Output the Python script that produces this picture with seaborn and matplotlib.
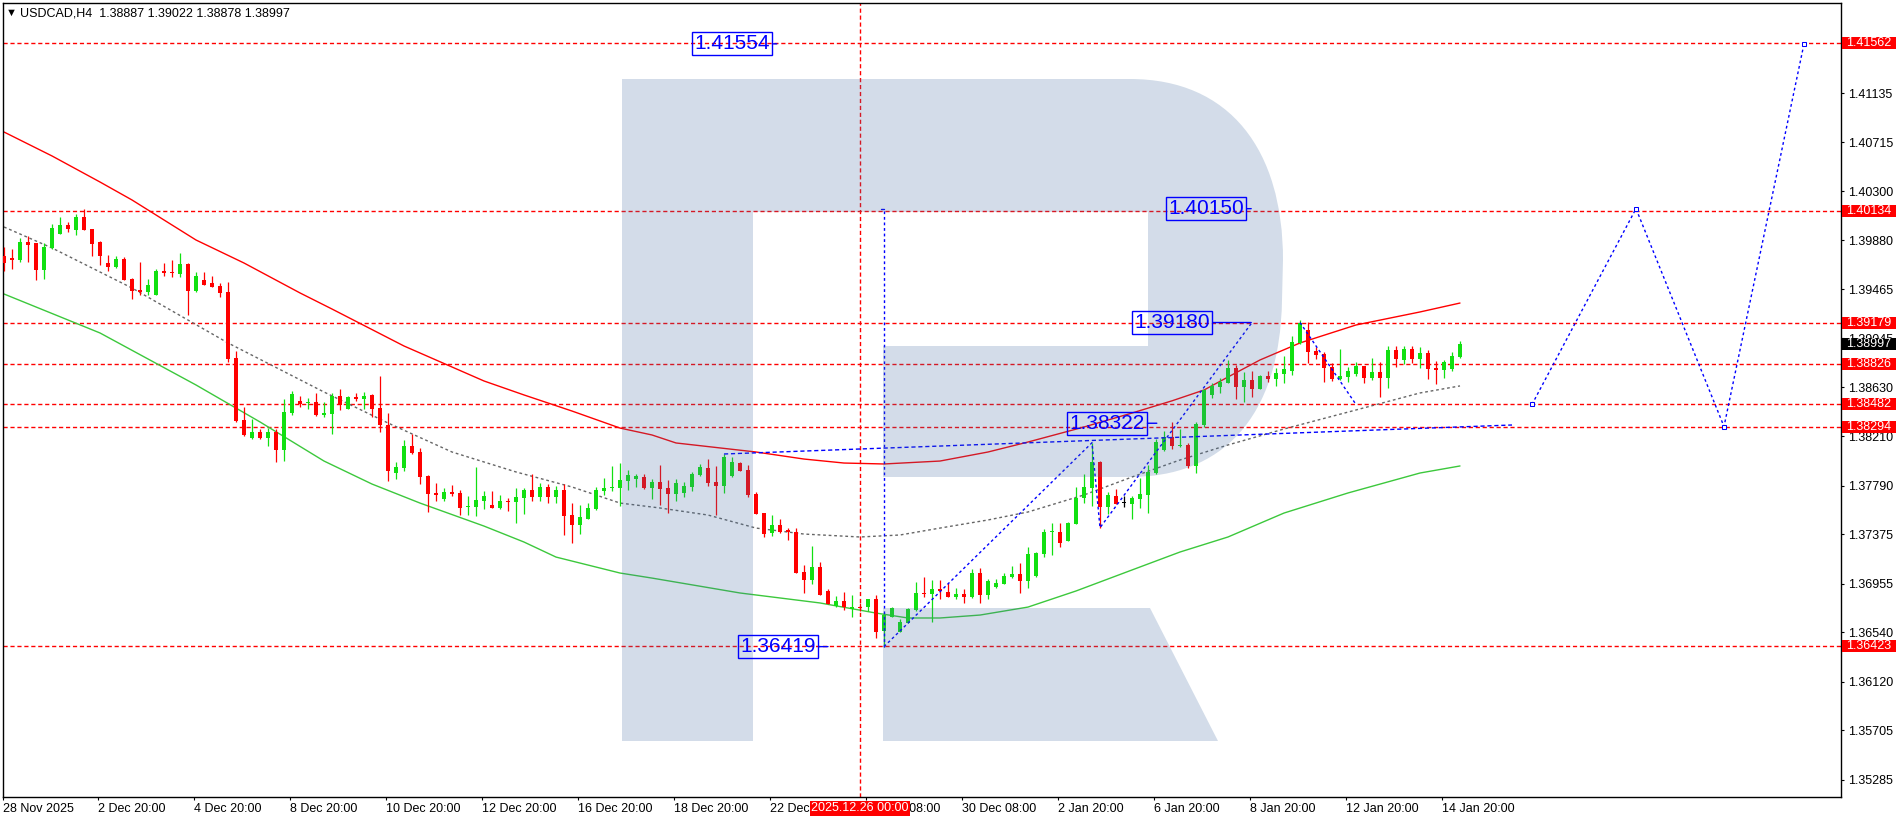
import matplotlib
matplotlib.use("Agg")
import matplotlib.pyplot as plt
import matplotlib.transforms as mtransforms
from matplotlib.path import Path
from matplotlib.patches import PathPatch, Rectangle
import seaborn as sns

# USDCAD H4 candles, index 0 = 28 Nov 2025
open_ = [1.39747, 1.39727, 1.39713, 1.39866, 1.39855, 1.39631, 1.39818, 1.39937, 1.40011, 1.39971,
         1.40079, 1.39977, 1.39866, 1.39687, 1.39653, 1.39719, 1.39551, 1.39457, 1.39440, 1.39417,
         1.39619, 1.39613, 1.39596, 1.39679, 1.39451, 1.39542, 1.39517, 1.39491, 1.39440, 1.38878,
         1.38350, 1.38199, 1.38247, 1.38199, 1.38247, 1.38097, 1.38407, 1.38511, 1.38492, 1.38503,
         1.38393, 1.38403, 1.38557, 1.38446, 1.38546, 1.38531, 1.38563, 1.38452, 1.38307, 1.37898,
         1.37943, 1.38128, 1.38077, 1.37872, 1.37727, 1.37679, 1.37736, 1.37727, 1.37611, 1.37611,
         1.37662, 1.37625, 1.37602, 1.37662, 1.37654, 1.37688, 1.37756, 1.37696, 1.37779, 1.37696,
         1.37756, 1.37540, 1.37458, 1.37509, 1.37594, 1.37747, 1.37773, 1.37773, 1.37832, 1.37844,
         1.37864, 1.37773, 1.37821, 1.37770, 1.37719, 1.37725, 1.37779, 1.37884, 1.37941, 1.37821,
         1.37787, 1.37872, 1.37986, 1.37924, 1.37719, 1.37557, 1.37384, 1.37455, 1.37412, 1.37395,
         1.37052, 1.36986, 1.37097, 1.36893, 1.36767, 1.36805, 1.36739, 1.36754, 1.36759, 1.36822,
         1.36554, 1.36674, 1.36546, 1.36623, 1.36731, 1.36878, 1.36867, 1.36907, 1.36884, 1.36841,
         1.36867, 1.36841, 1.37043, 1.36859, 1.36927, 1.36955, 1.37012, 1.37038, 1.36981, 1.37020,
         1.37211, 1.37395, 1.37398, 1.37321, 1.37464, 1.37688, 1.37770, 1.37992, 1.37611, 1.37702,
         1.37645, 1.37636, 1.37679, 1.37713, 1.37901, 1.38094, 1.38202, 1.38128, 1.38137, 1.37958,
         1.38307, 1.38563, 1.38633, 1.38667, 1.38790, 1.38631, 1.38690, 1.38616, 1.38725, 1.38699,
         1.38744, 1.38770, 1.39006, 1.39116, 1.38940, 1.38912, 1.38801, 1.38699, 1.38716, 1.38744,
         1.38810, 1.38710, 1.38759, 1.38710, 1.38946, 1.38863, 1.38952, 1.38872, 1.38921, 1.38793,
         1.38778, 1.38787, 1.38887]
high = [1.39821, 1.39804, 1.39898, 1.39917, 1.39860, 1.39855, 1.40020, 1.40077, 1.40034, 1.40102,
        1.40145, 1.39977, 1.39875, 1.39753, 1.39747, 1.39736, 1.39557, 1.39696, 1.39551, 1.39634,
        1.39690, 1.39713, 1.39775, 1.39690, 1.39611, 1.39611, 1.39576, 1.39514, 1.39528, 1.38937,
        1.38458, 1.38356, 1.38273, 1.38284, 1.38270, 1.38529, 1.38594, 1.38554, 1.38537, 1.38582,
        1.38503, 1.38577, 1.38611, 1.38557, 1.38577, 1.38588, 1.38571, 1.38725, 1.38407, 1.37992,
        1.38179, 1.38230, 1.38111, 1.37878, 1.37810, 1.37770, 1.37793, 1.37750, 1.37702, 1.37947,
        1.37744, 1.37744, 1.37708, 1.37685, 1.37770, 1.37768, 1.37889, 1.37810, 1.37802, 1.37787,
        1.37802, 1.37640, 1.37625, 1.37640, 1.37776, 1.37855, 1.37958, 1.37986, 1.37924, 1.37889,
        1.37889, 1.37844, 1.37966, 1.37838, 1.37844, 1.37821, 1.37904, 1.37975, 1.38020, 1.37958,
        1.38057, 1.38032, 1.37992, 1.37966, 1.37736, 1.37557, 1.37540, 1.37506, 1.37427, 1.37427,
        1.37114, 1.37276, 1.37140, 1.36912, 1.36848, 1.36887, 1.36859, 1.36788, 1.36828, 1.36859,
        1.36706, 1.36759, 1.36652, 1.36745, 1.36972, 1.37014, 1.36986, 1.36986, 1.36958, 1.36915,
        1.36912, 1.37077, 1.37086, 1.36992, 1.36992, 1.37049, 1.37108, 1.37134, 1.37270, 1.37228,
        1.37424, 1.37472, 1.37470, 1.37483, 1.37781, 1.37889, 1.38156, 1.38003, 1.37736, 1.37764,
        1.37702, 1.37705, 1.37858, 1.37966, 1.38190, 1.38256, 1.38335, 1.38273, 1.38151, 1.38335,
        1.38617, 1.38667, 1.38705, 1.38861, 1.38818, 1.38759, 1.38767, 1.38733, 1.38767, 1.38790,
        1.38897, 1.39065, 1.39200, 1.39182, 1.38974, 1.38931, 1.38838, 1.38955, 1.38804, 1.38846,
        1.38810, 1.38878, 1.38844, 1.38980, 1.38980, 1.38980, 1.38980, 1.38972, 1.38946, 1.38852,
        1.38861, 1.38929, 1.39022]
low = [1.39622, 1.39639, 1.39699, 1.39699, 1.39545, 1.39551, 1.39804, 1.39937, 1.39954, 1.39923,
       1.39971, 1.39747, 1.39673, 1.39622, 1.39647, 1.39545, 1.39383, 1.39415, 1.39417, 1.39417,
       1.39579, 1.39571, 1.39571, 1.39247, 1.39443, 1.39502, 1.39485, 1.39400, 1.38844, 1.38335,
       1.38213, 1.38188, 1.38188, 1.38128, 1.37995, 1.38003, 1.38393, 1.38460, 1.38441, 1.38384,
       1.38378, 1.38233, 1.38435, 1.38441, 1.38514, 1.38441, 1.38378, 1.38250, 1.37832, 1.37849,
       1.37918, 1.38060, 1.37806, 1.37568, 1.37662, 1.37662, 1.37702, 1.37540, 1.37540, 1.37534,
       1.37591, 1.37602, 1.37594, 1.37577, 1.37475, 1.37549, 1.37660, 1.37662, 1.37645, 1.37640,
       1.37372, 1.37304, 1.37376, 1.37504, 1.37585, 1.37711, 1.37747, 1.37619, 1.37753, 1.37781,
       1.37764, 1.37676, 1.37625, 1.37560, 1.37660, 1.37693, 1.37744, 1.37872, 1.37787, 1.37540,
       1.37730, 1.37866, 1.37915, 1.37696, 1.37549, 1.37355, 1.37359, 1.37389, 1.37327, 1.37043,
       1.36878, 1.36952, 1.36856, 1.36779, 1.36754, 1.36731, 1.36669, 1.36725, 1.36720, 1.36490,
       1.36419, 1.36669, 1.36543, 1.36618, 1.36725, 1.36844, 1.36631, 1.36825, 1.36839, 1.36822,
       1.36788, 1.36835, 1.36793, 1.36827, 1.36921, 1.36955, 1.37006, 1.36878, 1.36921, 1.37014,
       1.37180, 1.37199, 1.37270, 1.37321, 1.37461, 1.37640, 1.37617, 1.37432, 1.37549, 1.37634,
       1.37606, 1.37509, 1.37600, 1.37560, 1.37887, 1.38083, 1.38105, 1.38117, 1.37943, 1.37901,
       1.38293, 1.38540, 1.38582, 1.38662, 1.38529, 1.38506, 1.38548, 1.38611, 1.38676, 1.38642,
       1.38667, 1.38733, 1.38997, 1.38833, 1.38867, 1.38671, 1.38684, 1.38690, 1.38673, 1.38725,
       1.38667, 1.38690, 1.38548, 1.38625, 1.38804, 1.38824, 1.38833, 1.38795, 1.38701, 1.38659,
       1.38710, 1.38770, 1.38878]
close = [1.39690, 1.39715, 1.39866, 1.39840, 1.39631, 1.39823, 1.39986, 1.40011, 1.39977, 1.40079,
         1.39971, 1.39852, 1.39747, 1.39656, 1.39719, 1.39545, 1.39451, 1.39443, 1.39500, 1.39622,
         1.39605, 1.39600, 1.39679, 1.39451, 1.39576, 1.39502, 1.39485, 1.39434, 1.38872, 1.38341,
         1.38219, 1.38247, 1.38199, 1.38247, 1.38097, 1.38418, 1.38571, 1.38488, 1.38503, 1.38393,
         1.38412, 1.38557, 1.38480, 1.38546, 1.38531, 1.38554, 1.38446, 1.38307, 1.37918, 1.37949,
         1.38128, 1.38068, 1.37866, 1.37721, 1.37713, 1.37736, 1.37719, 1.37602, 1.37617, 1.37668,
         1.37702, 1.37602, 1.37657, 1.37654, 1.37693, 1.37756, 1.37696, 1.37779, 1.37696, 1.37756,
         1.37534, 1.37458, 1.37523, 1.37600, 1.37753, 1.37770, 1.37781, 1.37838, 1.37881, 1.37872,
         1.37770, 1.37821, 1.37761, 1.37719, 1.37813, 1.37787, 1.37892, 1.37949, 1.37810, 1.37790,
         1.38034, 1.37992, 1.37915, 1.37713, 1.37549, 1.37378, 1.37455, 1.37398, 1.37398, 1.37049,
         1.36986, 1.37097, 1.36859, 1.36782, 1.36805, 1.36754, 1.36754, 1.36745, 1.36822, 1.36546,
         1.36688, 1.36745, 1.36629, 1.36737, 1.36873, 1.36870, 1.36910, 1.36895, 1.36844, 1.36867,
         1.36844, 1.37043, 1.36861, 1.36978, 1.36958, 1.37020, 1.37038, 1.36981, 1.37208, 1.37217,
         1.37395, 1.37404, 1.37299, 1.37472, 1.37685, 1.37779, 1.37992, 1.37611, 1.37710, 1.37636,
         1.37645, 1.37688, 1.37719, 1.37907, 1.38162, 1.38202, 1.38131, 1.38137, 1.37958, 1.38313,
         1.38605, 1.38639, 1.38671, 1.38790, 1.38633, 1.38690, 1.38616, 1.38725, 1.38701, 1.38750,
         1.38784, 1.39014, 1.39176, 1.38931, 1.38901, 1.38795, 1.38699, 1.38725, 1.38767, 1.38810,
         1.38710, 1.38759, 1.38710, 1.38946, 1.38872, 1.38952, 1.38872, 1.38921, 1.38787, 1.38778,
         1.38844, 1.38895, 1.38997]

# Bollinger bands, read at a number of candles
upper_idx = [0, 6, 12, 16, 24, 30, 37, 41, 50, 60, 65, 71, 77, 81, 84, 94, 100, 105, 110, 117,
             123, 128, 135, 141, 146, 150, 153, 157, 162, 169, 177, 182]
bb_upper = [1.40803, 1.40599, 1.40377, 1.40224, 1.39883, 1.39687, 1.39432, 1.39295, 1.38980, 1.38682,
            1.38563, 1.38426, 1.38281, 1.38222, 1.38154, 1.38077, 1.38017, 1.37983, 1.37975, 1.38000,
            1.38077, 1.38162, 1.38290, 1.38409, 1.38513, 1.38605, 1.38716, 1.38861, 1.39006, 1.39159,
            1.39270, 1.39346]
mid_idx = [0, 6, 16, 28, 40, 48, 56, 64, 71, 77, 82, 88, 94, 100, 107, 112, 117, 123, 128, 135,
           141, 147, 153, 160, 169, 177, 182]
bb_mid = [1.39994, 1.39815, 1.39474, 1.39006, 1.38588, 1.38324, 1.38077, 1.37907, 1.37779, 1.37642,
          1.37600, 1.37540, 1.37429, 1.37378, 1.37353, 1.37370, 1.37429, 1.37498, 1.37566, 1.37711,
          1.37864, 1.38009, 1.38137, 1.38273, 1.38435, 1.38580, 1.38640]
lower_idx = [0, 12, 24, 32, 40, 46, 52, 60, 65, 69, 77, 81, 92, 102, 109, 113, 117, 122, 128, 134,
             141, 147, 153, 160, 168, 177, 182]
bb_lower = [1.39423, 1.39091, 1.38648, 1.38333, 1.38000, 1.37804, 1.37642, 1.37446, 1.37310, 1.37182,
            1.37046, 1.37003, 1.36876, 1.36791, 1.36705, 1.36663, 1.36663, 1.36688, 1.36756, 1.36893,
            1.37072, 1.37225, 1.37353, 1.37557, 1.37728, 1.37898, 1.37958]

# levels and marks
level_prices = [1.41562, 1.40134, 1.39179, 1.38826, 1.38482, 1.38294, 1.36423]
last_price = 1.38997
marked_idx = 107
marked_label = "2025.12.26 00:00"

ytick_values = [1.41135, 1.40715, 1.40300, 1.39880, 1.39465, 1.39045, 1.38630, 1.38210,
                1.37790, 1.37375, 1.36955, 1.36540, 1.36120, 1.35705, 1.35285]
xtick_pos = [-0.1, 11.75, 23.75, 35.75, 47.75, 59.75, 71.75, 83.75, 95.75, 107.75,
             119.75, 131.75, 143.75, 155.75, 167.75, 179.75]
xtick_labels = ["28 Nov 2025", "2 Dec 20:00", "4 Dec 20:00", "8 Dec 20:00", "10 Dec 20:00",
                "12 Dec 20:00", "16 Dec 20:00", "18 Dec 20:00", "22 Dec 20:00", "26 Dec 08:00",
                "30 Dec 08:00", "2 Jan 20:00", "6 Jan 20:00", "8 Jan 20:00", "12 Jan 20:00",
                "14 Jan 20:00"]

# analyst drawings
drop_idx, drop_top, drop_bottom = 110, 1.40150, 1.36419
wave_idx = [110, 136, 137, 156]
wave_price = [1.36419, 1.38156, 1.37432, 1.39180]
pullback_idx = [162, 169]
pullback_price = [1.39180, 1.38482]
forecast_idx = [191, 204, 215, 225]
forecast_price = [1.38482, 1.40150, 1.38294, 1.41554]
support_idx = [90, 188.5]
support_price = [1.38060, 1.38307]

note_prices = [1.41554, 1.40150, 1.39180, 1.38322, 1.36419]
note_anchor = [96.6, 155.9, 155.9, 144.1, 103.0]
note_gap = [7, 7, 41, 12, 12]

W, H = 1904, 821
BLUE = "#0000ff"
sns.set_style("white")
plt.rcParams["font.family"] = ["Liberation Sans", "DejaVu Sans"]

fig = plt.figure(figsize=(W / 100, H / 100), dpi=100)
ax = fig.add_axes([3 / W, 1 - 797 / H, 1838 / W, 794 / H])
ax.set_xlim(-0.125, 229.625)
ax.set_ylim(1.35138, 1.41902)

for p in level_prices:
    ax.axhline(p, color="red", lw=1, linestyle=(0, (3, 2)), zorder=1)
ax.axvline(marked_idx, color="red", lw=1, linestyle=(0, (3, 2)), zorder=1)

# bands
sns.lineplot(x=upper_idx, y=bb_upper, ax=ax, color="#ff0000", lw=1, zorder=2)
sns.lineplot(x=mid_idx, y=bb_mid, ax=ax, color="#666666", lw=1, linestyle=(0, (2, 2)), zorder=2)
sns.lineplot(x=lower_idx, y=bb_lower, ax=ax, color="#3cc83c", lw=1, zorder=2)

# candles
idx = list(range(len(close)))
cols = ["#11e011" if c > o else ("#ff0000" if c < o else "black") for o, c in zip(open_, close)]
bottoms = [min(o, c) for o, c in zip(open_, close)]
heights = [max(abs(c - o), 0.00009) for o, c in zip(open_, close)]
ax.vlines(idx, low, high, colors=cols, lw=0.9, zorder=3)
ax.bar(idx, heights, bottom=bottoms, width=0.62, color=cols, linewidth=0, zorder=3)

# drawings
ax.vlines(drop_idx, drop_bottom, drop_top, colors=BLUE, lw=1, linestyles=(0, (2, 2)), zorder=4)
ax.plot([drop_idx - 0.4, drop_idx], [drop_top, drop_top], color=BLUE, lw=1, zorder=4)
sns.lineplot(x=wave_idx, y=wave_price, ax=ax, sort=False, color=BLUE, lw=1, linestyle=(0, (2, 2)), zorder=4)
sns.lineplot(x=pullback_idx, y=pullback_price, ax=ax, sort=False, color=BLUE, lw=1, linestyle=(0, (2, 2)), zorder=4)
sns.lineplot(x=support_idx, y=support_price, ax=ax, sort=False, color=BLUE, lw=1, linestyle=(0, (3, 2)), zorder=4)
sns.lineplot(x=forecast_idx, y=forecast_price, ax=ax, sort=False, color=BLUE, lw=1, linestyle=(0, (2, 2)),
             marker="s", markersize=3, markerfacecolor="white", markeredgecolor=BLUE, zorder=4)

# watermark "R" laid over the chart with transparency
def fp(x, y):
    return (x / W, 1 - y / H)

verts = [fp(622, 741), fp(622, 79), fp(1130, 79),
         fp(1230, 79), fp(1283, 150), fp(1283, 260),
         fp(1282, 300),
         fp(1280, 420), fp(1220, 477), fp(1130, 477),
         fp(883, 477), fp(883, 346), fp(1148, 346), fp(1148, 212), fp(753, 212), fp(753, 741),
         fp(622, 741),
         fp(883, 608), fp(1150, 608), fp(1218, 741), fp(883, 741), fp(883, 608)]
codes = [Path.MOVETO, Path.LINETO, Path.LINETO,
         Path.CURVE4, Path.CURVE4, Path.CURVE4,
         Path.LINETO,
         Path.CURVE4, Path.CURVE4, Path.CURVE4,
         Path.LINETO, Path.LINETO, Path.LINETO, Path.LINETO, Path.LINETO, Path.LINETO,
         Path.CLOSEPOLY,
         Path.MOVETO, Path.LINETO, Path.LINETO, Path.LINETO, Path.CLOSEPOLY]
ax.add_patch(PathPatch(Path(verts, codes), transform=fig.transFigure, facecolor=(0.267, 0.431, 0.635),
                       alpha=0.235, edgecolor="none", clip_on=False, zorder=5))

# price notes
for val, anc, gap in zip(note_prices, note_anchor, note_gap):
    ax.annotate(f"{val:.5f}", xy=(anc, val), xytext=(-gap, 0), textcoords="offset pixels",
                ha="right", va="center", color=BLUE, fontsize=15,
                bbox=dict(boxstyle="square,pad=0.1", fc="none", ec=BLUE, lw=1),
                arrowprops=dict(arrowstyle="-", color=BLUE, lw=1, shrinkA=0, shrinkB=0), zorder=8)

# axes look
for s in ax.spines.values():
    s.set_color("black")
    s.set_linewidth(1)
ax.yaxis.tick_right()
ax.set_yticks(ytick_values)
ax.set_yticklabels([f"{v:.5f}" for v in ytick_values])
ax.tick_params(axis="y", left=False, right=True, labelleft=False, labelright=True,
               direction="out", length=2.5, width=0.8, pad=2.5, labelsize=9, colors="black")
ax.set_xticks(xtick_pos)
ax.set_xticklabels(xtick_labels, ha="left")
ax.tick_params(axis="x", bottom=True, direction="out", length=2.5, width=0.8, pad=2,
               labelsize=9, colors="black")

trans = mtransforms.blended_transform_factory(ax.transAxes, ax.transData)
box_h = 12 * (1.41902 - 1.35138) / 794
for p in level_prices + [last_price]:
    fc = "black" if p == last_price else "#ff0000"
    ax.add_patch(Rectangle((1.0005, p - box_h / 2), 54 / 1838, box_h, transform=trans,
                           facecolor=fc, edgecolor="none", clip_on=False, zorder=9))
    ax.text(1.0030, p, f"{p:.5f}", transform=trans, color="white", fontsize=9,
            ha="left", va="center", clip_on=False, zorder=10)

tx = mtransforms.blended_transform_factory(ax.transData, ax.transAxes)
ax.text(marked_idx, -0.0139, marked_label, transform=tx, color="white", fontsize=9,
        ha="center", va="center", clip_on=False, zorder=10,
        bbox=dict(boxstyle="square,pad=0.12", fc="#ff0000", ec="none"))

fig.text(6 / W, 1 - 13 / H, "▼", fontsize=8, va="center", ha="left", color="black")
fig.text(20 / W, 1 - 13 / H, "USDCAD,H4  1.38887 1.39022 1.38878 1.38997", fontsize=9,
         va="center", ha="left", color="black")

fig.savefig("out.png", dpi=100, facecolor="white")
